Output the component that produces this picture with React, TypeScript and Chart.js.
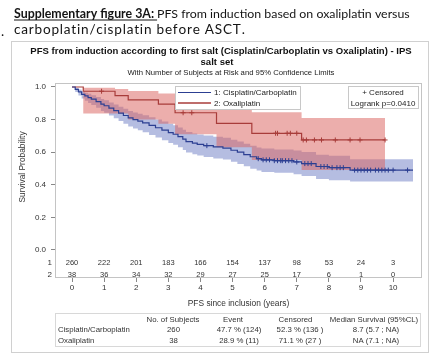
import React, { useEffect, useRef } from "react";
import { Chart, registerables } from "chart.js";

Chart.register(...registerables);

// ---------------- data ----------------
const xTickValues = [0, 1, 2, 3, 4, 5, 6, 7, 8, 9, 10];
const yTickValues = [0, 0.2, 0.4, 0.6, 0.8, 1.0];

const groupLabels = ["1: Cisplatin/Carboplatin", "2: Oxaliplatin"];
const atRiskRowLabels = ["1", "2"];
const atRisk1 = [260, 222, 201, 183, 166, 154, 137, 98, 53, 24, 3];
const atRisk2 = [38, 36, 34, 32, 29, 27, 25, 17, 6, 1, 0];

// Cisplatin/Carboplatin KM estimate and 95% CL
const cisT = [0, 0.1, 0.2, 0.3, 0.4, 0.5, 0.6, 0.75, 0.9, 1.0, 1.15, 1.3, 1.45, 1.6, 1.75, 1.9, 2.05, 2.2, 2.4, 2.6, 2.8, 3.0, 3.15, 3.3, 3.45, 3.55, 3.75, 3.9, 4.1, 4.4, 4.7, 4.95, 5.15, 5.35, 5.55, 5.75, 5.9, 6.3, 6.9, 7.15, 7.6, 8.0, 8.66, 10.62];
const cisS = [1.0, 0.985, 0.97, 0.955, 0.945, 0.935, 0.925, 0.91, 0.895, 0.885, 0.87, 0.855, 0.84, 0.825, 0.81, 0.8, 0.79, 0.78, 0.765, 0.75, 0.735, 0.72, 0.71, 0.695, 0.68, 0.665, 0.655, 0.648, 0.64, 0.632, 0.625, 0.612, 0.6, 0.585, 0.572, 0.56, 0.553, 0.548, 0.54, 0.53, 0.512, 0.505, 0.49, 0.49];
const cisLo = [1.0, 0.97, 0.948, 0.929, 0.915, 0.902, 0.89, 0.872, 0.853, 0.842, 0.825, 0.808, 0.791, 0.774, 0.757, 0.746, 0.734, 0.723, 0.706, 0.69, 0.673, 0.657, 0.646, 0.63, 0.614, 0.598, 0.587, 0.579, 0.571, 0.562, 0.555, 0.541, 0.528, 0.513, 0.499, 0.487, 0.479, 0.474, 0.465, 0.454, 0.436, 0.428, 0.42, 0.42];
const cisHi = [1.0, 0.994, 0.984, 0.973, 0.965, 0.958, 0.95, 0.939, 0.926, 0.918, 0.905, 0.892, 0.879, 0.866, 0.853, 0.844, 0.836, 0.827, 0.814, 0.801, 0.788, 0.775, 0.766, 0.752, 0.738, 0.724, 0.715, 0.709, 0.702, 0.695, 0.689, 0.677, 0.666, 0.652, 0.64, 0.628, 0.622, 0.617, 0.61, 0.601, 0.584, 0.578, 0.556, 0.556];

// Oxaliplatin KM estimate and 95% CL
const oxaT = [0, 0.35, 1.34, 1.75, 2.69, 3.21, 4.5, 5.6, 7.15, 9.75];
const oxaS = [1.0, 0.974, 0.947, 0.921, 0.895, 0.842, 0.777, 0.716, 0.675, 0.675];
const oxaLo = [1.0, 0.838, 0.838, 0.8, 0.775, 0.71, 0.63, 0.552, 0.49, 0.49];
const oxaHi = [1.0, 0.996, 0.987, 0.975, 0.96, 0.93, 0.89, 0.845, 0.81, 0.81];

// censored observations
const cisCensT = [4.2, 5.8, 5.95, 6.05, 6.15, 6.3, 6.4, 6.5, 6.55, 6.65, 6.75, 6.85, 7.0, 7.25, 7.35, 7.45, 7.75, 7.85, 7.95, 8.1, 8.25, 8.35, 8.45, 8.8, 8.9, 9.0, 9.1, 9.2, 9.3, 9.45, 9.55, 9.65, 9.75, 9.85, 10.0, 10.45];
const cisCensS = [0.64, 0.56, 0.553, 0.553, 0.553, 0.548, 0.548, 0.548, 0.548, 0.548, 0.548, 0.548, 0.54, 0.53, 0.53, 0.53, 0.512, 0.512, 0.512, 0.505, 0.505, 0.505, 0.505, 0.49, 0.49, 0.49, 0.49, 0.49, 0.49, 0.49, 0.49, 0.49, 0.49, 0.49, 0.49, 0.49];
const oxaCensT = [0.92, 3.46, 3.73, 6.34, 6.4, 6.7, 6.8, 7.0, 7.2, 7.3, 7.55, 7.77, 8.2, 8.66, 8.97, 9.75];
const oxaCensS = [0.974, 0.842, 0.842, 0.716, 0.716, 0.716, 0.716, 0.716, 0.675, 0.675, 0.675, 0.675, 0.675, 0.675, 0.675, 0.675];

// summary table
const tableHeader = ["No. of Subjects", "Event", "Censored", "Median Survival (95%CL)"];
const tableRowNames = ["Cisplatin/Carboplatin", "Oxaliplatin"];
const tableSubjects = ["260", "38"];
const tableEvent = ["47.7 % (124)", "28.9 % (11)"];
const tableCensored = ["52.3 % (136 )", "71.1 % (27 )"];
const tableMedian = ["8.7 (5.7 ; NA)", "NA (7.1 ; NA)"];

const docTitleBold = "Supplementary figure 3A: ";
const docTitleRest = "PFS from induction based on oxaliplatin versus";
const docTitleLine2 = "carboplatin/cisplatin before ASCT.";
const chartTitle1 = "PFS from induction according to first salt (Cisplatin/Carboplatin vs Oxaliplatin) - IPS";
const chartTitle2 = "salt set";
const chartSubtitle = "With Number of Subjects at Risk and 95% Confidence Limits";
const xTitle = "PFS since inclusion (years)";
const yTitle = "Survival Probability";
const censoredLabel = "+ Censored";
const logrankLabel = "Logrank p=0.0410";

// ---------------- styles ----------------
const BLUE = "#2c3f92";
const RED = "#a83c3a";
const BLUE_BAND = "rgba(92,108,188,0.45)";
const RED_BAND = "rgba(218,100,96,0.52)";
const SANS = "'Liberation Sans', Arial, sans-serif";
const DOC = "Lato, 'Open Sans', sans-serif";

const pts = (xs: number[], ys: number[]) => xs.map((x, i) => ({ x, y: ys[i] }));

function fitSize(ctx: CanvasRenderingContext2D, s: string, font: (n: number) => string, target: number) {
  ctx.font = font(10);
  const w = ctx.measureText(s).width;
  return (10 * target) / w;
}

function txt(ctx: CanvasRenderingContext2D, s: string, x: number, y: number, font: string, color = "#222", align: CanvasTextAlign = "left") {
  ctx.font = font;
  ctx.fillStyle = color;
  ctx.textAlign = align;
  ctx.textBaseline = "middle";
  ctx.fillText(s, x, y);
}

// draw text with a small letter spacing chosen so that it spans the target width
function spacedText(ctx: CanvasRenderingContext2D, s: string, x: number, y: number, target: number) {
  const w = ctx.measureText(s).width;
  const extra = (target - w) / Math.max(1, s.length - 1);
  if (extra <= 0) { ctx.fillText(s, x, y); return; }
  let cx = x;
  for (const ch of s) {
    ctx.fillText(ch, cx, y);
    cx += ctx.measureText(ch).width + extra;
  }
}

const decorPlugin = {
  id: "decor",
  beforeDraw(chart: any) {
    const ctx: CanvasRenderingContext2D = chart.ctx;
    ctx.save();
    ctx.fillStyle = "#ffffff";
    ctx.fillRect(0, 0, chart.width, chart.height);

    // document caption
    ctx.font = `bold 10px ${DOC}`;
    const wb = ctx.measureText(docTitleBold).width;
    ctx.font = `10px ${DOC}`;
    const wr = ctx.measureText(docTitleRest).width;
    const fs = (10 * 396) / (wb + wr);
    ctx.textBaseline = "alphabetic";
    ctx.textAlign = "left";
    ctx.fillStyle = "#141414";
    ctx.font = `bold ${fs}px ${DOC}`;
    const bw = ctx.measureText(docTitleBold).width;
    ctx.fillText(docTitleBold, 14, 18);
    ctx.fillRect(14, 19.5, bw, 1);
    ctx.font = `${fs}px ${DOC}`;
    ctx.fillText(docTitleRest, 14 + bw, 18);
    ctx.font = `${fs * 1.1}px ${DOC}`;
    spacedText(ctx, docTitleLine2, 14, 34, 229);
    ctx.fillText(".", 1, 36);

    // panel border
    ctx.strokeStyle = "#d0d0d0";
    ctx.lineWidth = 1;
    ctx.strokeRect(11.5, 41.5, 417, 311);

    // chart titles
    const tf = (n: number) => `bold ${n}px ${SANS}`;
    const ts = fitSize(ctx, chartTitle1, tf, 382);
    txt(ctx, chartTitle1, 221, 51, tf(ts), "#111", "center");
    txt(ctx, chartTitle2, 217, 62.5, tf(ts), "#111", "center");
    const sf = (n: number) => `${n}px ${SANS}`;
    const ss = fitSize(ctx, chartSubtitle, sf, 207);
    txt(ctx, chartSubtitle, 231, 73, sf(ss), "#222", "center");
    ctx.restore();
  },
  afterDraw(chart: any) {
    const ctx: CanvasRenderingContext2D = chart.ctx;
    const a = chart.chartArea;
    const xs = chart.scales.x;
    const ys = chart.scales.y;
    ctx.save();

    // plot frame
    ctx.strokeStyle = "#c4c4c4";
    ctx.lineWidth = 1;
    ctx.strokeRect(Math.round(a.left) + 0.5, Math.round(a.top) + 0.5, Math.round(a.right - a.left) - 1, Math.round(a.bottom - a.top) - 1);

    // legend
    ctx.fillStyle = "#fff";
    ctx.fillRect(175, 86, 125, 24);
    ctx.strokeStyle = "#c8c8c8";
    ctx.strokeRect(175.5, 86.5, 125, 23);
    ctx.lineWidth = 1;
    ctx.strokeStyle = BLUE;
    ctx.beginPath(); ctx.moveTo(178, 92.5); ctx.lineTo(211, 92.5); ctx.stroke();
    ctx.strokeStyle = RED;
    ctx.lineWidth = 1.5;
    ctx.beginPath(); ctx.moveTo(178, 103); ctx.lineTo(211, 103); ctx.stroke();
    txt(ctx, groupLabels[0], 214, 92.5, `8px ${SANS}`, "#222");
    txt(ctx, groupLabels[1], 214, 103.5, `8px ${SANS}`, "#222");

    // censored / logrank box
    ctx.lineWidth = 1;
    ctx.fillStyle = "#fff";
    ctx.fillRect(348, 86, 71, 23);
    ctx.strokeStyle = "#c8c8c8";
    ctx.strokeRect(348.5, 86.5, 70, 22);
    txt(ctx, censoredLabel, 383, 92.5, `8px ${SANS}`, "#222", "center");
    txt(ctx, logrankLabel, 383, 103.5, `8px ${SANS}`, "#222", "center");

    // number at risk
    const r1 = ys.getPixelForValue(-0.08);
    const r2 = ys.getPixelForValue(-0.153);
    xTickValues.forEach((t, i) => {
      const px = xs.getPixelForValue(t);
      txt(ctx, String(atRisk1[i]), px, r1, `7.5px ${SANS}`, "#333", "center");
      txt(ctx, String(atRisk2[i]), px, r2, `7.5px ${SANS}`, "#333", "center");
    });
    txt(ctx, atRiskRowLabels[0], 52, r1, `8px ${SANS}`, "#333", "right");
    txt(ctx, atRiskRowLabels[1], 52, r2, `8px ${SANS}`, "#333", "right");

    // axis titles
    ctx.save();
    ctx.translate(22.5, 167);
    ctx.rotate(-Math.PI / 2);
    txt(ctx, yTitle, 0, 0, `8.4px ${SANS}`, "#333", "center");
    ctx.restore();
    txt(ctx, xTitle, 238.5, 304, `8.4px ${SANS}`, "#333", "center");

    // summary table
    ctx.strokeStyle = "#d8d8d8";
    ctx.strokeRect(55.5, 313.5, 365, 33);
    const tfnt = `7.8px ${SANS}`;
    const hx = [173, 233, 295.5, 374];
    tableHeader.forEach((h, i) => txt(ctx, h, hx[i], 319.5, tfnt, "#333", "center"));
    const rowY = [330, 341];
    tableRowNames.forEach((n, r) => {
      txt(ctx, n, 58, rowY[r], tfnt, "#333", "left");
      txt(ctx, tableSubjects[r], 173.5, rowY[r], tfnt, "#333", "center");
      txt(ctx, tableEvent[r], 239, rowY[r], tfnt, "#333", "center");
      txt(ctx, tableCensored[r], 300, rowY[r], tfnt, "#333", "center");
      txt(ctx, tableMedian[r], 376, rowY[r], tfnt, "#333", "center");
    });
    ctx.restore();
  },
};

export default function App() {
  const ref = useRef<HTMLCanvasElement | null>(null);

  useEffect(() => {
    if (!ref.current) return;
    const chart = new Chart(ref.current, {
      type: "line",
      data: {
        datasets: [
          { label: "cis", data: pts(cisT, cisS), stepped: "before", borderColor: BLUE, borderWidth: 1.2, pointRadius: 0, fill: false },
          { label: "oxa", data: pts(oxaT, oxaS), stepped: "before", borderColor: RED, borderWidth: 1.2, pointRadius: 0, fill: false },
          { label: "cisCens", data: pts(cisCensT, cisCensS), showLine: false, pointStyle: "cross", pointRadius: 2.5, borderColor: BLUE, borderWidth: 1, fill: false },
          { label: "oxaCens", data: pts(oxaCensT, oxaCensS), showLine: false, pointStyle: "cross", pointRadius: 2.5, borderColor: RED, borderWidth: 1, fill: false },
          { label: "oxaHi", data: pts(oxaT, oxaHi), stepped: "before", borderWidth: 0, borderColor: "rgba(0,0,0,0)", pointRadius: 0, backgroundColor: RED_BAND, fill: "+1" },
          { label: "oxaLo", data: pts(oxaT, oxaLo), stepped: "before", borderWidth: 0, borderColor: "rgba(0,0,0,0)", pointRadius: 0, fill: false },
          { label: "cisHi", data: pts(cisT, cisHi), stepped: "before", borderWidth: 0, borderColor: "rgba(0,0,0,0)", pointRadius: 0, backgroundColor: BLUE_BAND, fill: "+1" },
          { label: "cisLo", data: pts(cisT, cisLo), stepped: "before", borderWidth: 0, borderColor: "rgba(0,0,0,0)", pointRadius: 0, fill: false },
        ] as any,
      },
      options: {
        animation: false,
        responsive: false,
        devicePixelRatio: 1,
        layout: { padding: { left: 12, right: 15, top: 83, bottom: 56 } },
        plugins: {
          legend: { display: false },
          title: { display: false },
          tooltip: { enabled: false },
          filler: { drawTime: "beforeDatasetsDraw" },
        } as any,
        scales: {
          x: {
            type: "linear",
            min: -0.53,
            max: 10.9,
            afterBuildTicks: (s: any) => { s.ticks = xTickValues.map((v) => ({ value: v })); },
            afterFit: (s: any) => { s.height = 20; },
            ticks: { font: { family: SANS, size: 8 }, color: "#333", padding: 1, maxRotation: 0, autoSkip: false, callback: (v: any) => String(v) },
            grid: { display: true, drawOnChartArea: false, drawTicks: true, tickLength: 4, tickColor: "#888" },
            border: { display: false },
          },
          y: {
            type: "linear",
            min: -0.172,
            max: 1.0245,
            afterBuildTicks: (s: any) => { s.ticks = yTickValues.map((v) => ({ value: v })); },
            afterFit: (s: any) => { s.width = 43; },
            ticks: { font: { family: SANS, size: 8 }, color: "#333", padding: 5, autoSkip: false, callback: (v: any) => Number(v).toFixed(1) },
            grid: { display: true, drawOnChartArea: false, drawTicks: true, tickLength: 4, tickColor: "#888" },
            border: { display: false },
          },
        },
      } as any,
      plugins: [decorPlugin],
    });
    return () => chart.destroy();
  }, []);

  return (
    <div style={{ position: "absolute", left: 0, top: 0, width: 437, height: 354 }}>
      <canvas ref={ref} width={437} height={354} style={{ display: "block", width: 437, height: 354 }} />
    </div>
  );
}
